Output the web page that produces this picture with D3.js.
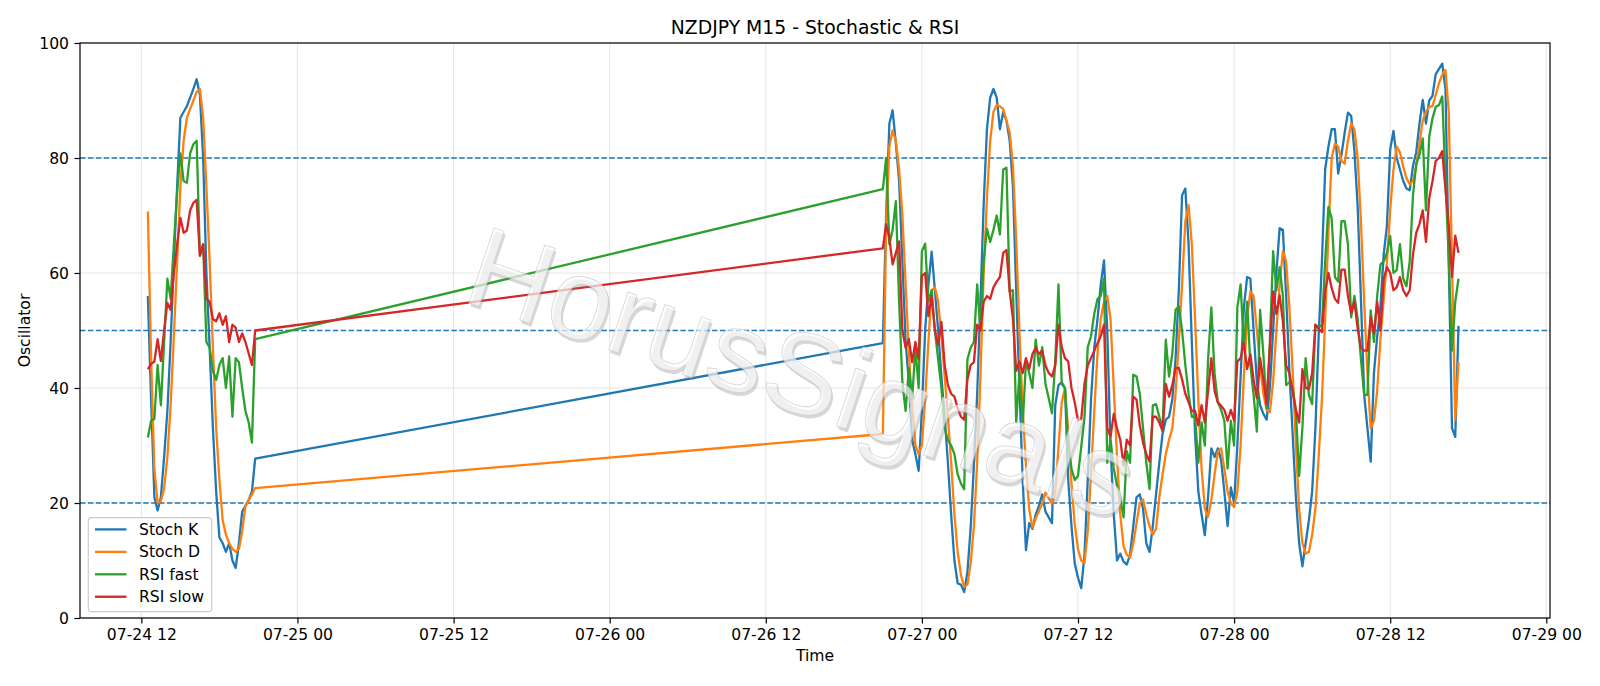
<!DOCTYPE html>
<html>
<head>
<meta charset="utf-8">
<script src="https://cdn.jsdelivr.net/npm/d3@7"></script>
<style>
  body { margin: 0; background: #fff; }
  text { font-family: "DejaVu Sans", sans-serif; }
</style>
</head>
<body>
<div id="chart"></div>
<script>

// two trading sessions, M15 bars (friday afternoon, then sunday open onwards)
var sessionStarts = ["2020-07-24 12:30", "2020-07-26 21:00"];
var sessionBars = [34, 178];

var seriesNames = ["Stoch K", "Stoch D", "RSI fast", "RSI slow"];
var seriesColors = ["#1f77b4", "#ff7f0e", "#2ca02c", "#d62728"];

var xTickLabels = ["2020-07-24 12:00", "2020-07-25 00:00", "2020-07-25 12:00", "2020-07-26 00:00",
    "2020-07-26 12:00", "2020-07-27 00:00", "2020-07-27 12:00", "2020-07-28 00:00",
    "2020-07-28 12:00", "2020-07-29 00:00"];
var yTicks = [0, 20, 40, 60, 80, 100];
var levels = [20, 50, 80];

var stochK = [
    56, 38, 21, 18.7, 21, 28, 36, 48, 62, 75, 87, 88, 89, 90.5, 92, 93.7, 91, 80, 60, 47,
    33, 22, 14, 13, 11.5, 13, 10, 8.7, 13, 18.5, 19.5, 20.5, 22, 27.7,
    47.8, 70, 86, 88.3, 82.5, 76, 62, 48, 41, 31,
    28.5, 25.6, 36, 50, 58, 63.7, 57, 50, 42, 35,
    27, 18, 10, 6, 5.8, 4.5, 8, 15.7, 26.6, 39,
    55, 72, 85, 90.5, 92, 90.5, 85, 88, 86.5, 83,
    75, 57, 40, 24, 11.8, 16.5, 15.5, 18, 19.5, 21.5,
    18.5, 17.5, 16.5, 37, 40.5, 41, 40, 24, 16, 9.5,
    7, 5.2, 11, 24, 38, 47, 52, 58, 62.2, 50,
    30, 18, 10, 11.2, 9.8, 9.3, 11, 16, 21, 21.5,
    19, 13, 11.5, 16, 21.5, 27, 32, 34.5, 35, 38,
    45, 57, 73.5, 74.7, 65, 48, 32, 22, 18, 14.4,
    21, 29.5, 28, 29.5, 27.5, 22, 16, 22.7, 20, 30,
    42, 54, 59.3, 59, 50, 41, 37, 35.5, 34.5, 40,
    50, 60, 67.8, 67.5, 56, 43, 32, 21, 13, 9,
    13, 17, 22, 33, 49, 62, 78, 82, 85, 85,
    77.3, 80.5, 84.4, 87.9, 87.3, 81.2, 71.5, 55.5, 38.8, 33,
    27.2, 42.6, 49, 54.2, 63.2, 68.3, 81.5, 84.7, 80, 78,
    76, 74.7, 74.4, 78.6, 81, 86, 90.1, 86, 90, 90.8,
    94.6, 95.5, 96.4, 92, 62, 33, 31.5, 50.8
];

var stochD = [
    70.7, 45, 26, 20, 20.3, 22.5, 28, 37, 49, 62, 75, 83, 87, 88.5, 90, 91.5, 92, 87, 75, 62,
    47, 33, 24, 17, 14.5, 13, 12, 11.5, 12, 15, 19.5, 20.5, 21.5, 22.6,
    32, 68, 82, 84.8, 83, 78, 70, 58, 46, 37,
    30, 28.5, 30, 38, 48, 57, 57.5, 55, 49, 42,
    35, 27, 18, 11.5, 7.5, 5.4, 5.8, 9.5, 16, 27,
    42, 60, 73, 83, 88, 89.2, 89, 88.5, 86.5, 84.4,
    78.6, 65.8, 49.7, 36.2, 26.6, 18.9, 15.7, 17.3, 18.6, 19.9,
    21.8, 20.8, 19.9, 21.5, 29.8, 37.5, 40, 32.3, 23.4, 16.3,
    12, 10, 9.6, 15, 25, 36, 46, 52, 55, 56,
    52, 40, 28, 18, 12.5, 11, 10.5, 13, 16.5, 20,
    20.6, 18, 16, 14.5, 15.5, 21, 25, 28.5, 31, 33,
    39, 48, 58, 69, 71.8, 65, 52, 38, 26, 19,
    17.6, 20.5, 25, 29, 29.5, 26, 22, 20, 19.3, 22,
    30, 42, 52, 56.8, 56, 50, 44, 39, 36.2, 35.8,
    41, 50, 58, 63.8, 62, 54, 43, 30, 19, 13,
    11.2, 11.5, 14.5, 19, 28, 38, 52, 67, 80, 82.5,
    82, 79.5, 79, 83, 86, 85, 80, 69, 55, 42.5,
    33, 34.3, 39.6, 48.6, 55.5, 62, 71, 78, 82, 81,
    78.5, 76.5, 75.4, 76, 78.5, 82.5, 86.5, 88, 88.9, 89,
    91, 93, 94.5, 95.3, 88, 62, 34.5, 44.5
];

var rsiFast = [
    31.4, 34.3, 34.6, 44, 37, 48, 59, 55.5, 65, 74, 80.8, 76, 75.7, 80.8, 82.4, 83, 63, 65, 48, 47,
    43, 41.4, 44, 45.2, 40, 45.5, 35, 45.2, 44.5, 40, 36, 34, 30.5, 48.5,
    74.6, 80, 65, 67.5, 72.5, 55, 41, 36, 43.5, 38,
    47, 40, 63.8, 65.1, 55, 57, 50, 45, 40, 33,
    31, 30, 28.5, 25, 23.4, 22.4, 45, 47, 48, 58,
    50, 62, 67.7, 65.4, 67.5, 70, 66.7, 78, 78.3, 56.8,
    57, 34, 42.6, 33.7, 44.6, 42.6, 40, 48.4, 43.9, 47.1,
    40.7, 38.2, 35.6, 44.6, 58, 40.7, 40, 30.4, 26, 24,
    24.7, 29.8, 34.9, 47.1, 49, 52.9, 55.5, 56, 59, 27,
    31, 26, 23, 21, 17.5, 29, 27, 42.3, 42, 39,
    33, 27, 22.4, 37, 37.2, 35, 33, 48.4, 42, 46,
    53.6, 54.2, 50, 44, 39, 35, 35, 27, 34, 30,
    45, 54, 42.5, 37.5, 36.2, 34.3, 26, 34.3, 30, 54,
    58, 47, 55, 44, 38.8, 32.4, 53.6, 45.9, 36.5, 48,
    63.8, 57, 61, 56, 40.5, 41, 40, 36, 24.7, 33,
    45.2, 38.8, 37.2, 51, 50.5, 51, 62, 71.5, 69.5, 59.3,
    58.5, 69, 69, 65, 52.3, 56, 52, 45, 38.8, 38.8,
    53.5, 48, 56, 61.5, 62, 63.5, 66.4, 60, 60.5, 65,
    59, 57.7, 62, 73.5, 79, 80.5, 83.4, 70.9, 83.7, 86.9,
    88.9, 89.2, 90.7, 76, 62.5, 46.5, 55, 59
];

var rsiSlow = [
    43.3, 44.2, 44.6, 48.5, 44.7, 50, 54.8, 53.6, 60, 65, 69.6, 67, 67.4, 70.9, 72.2, 72.7, 63, 65, 55.5, 55,
    52, 51.6, 53, 51, 52.5, 48, 51, 50.5, 48, 49.5, 48, 46, 44, 50,
    64.3, 68.5, 66, 61.5, 63.5, 65.5, 50, 47, 48.5, 44.5,
    48, 45, 59.5, 60, 52.5, 56, 50, 47.5, 51.5, 44,
    40.5, 39, 38.5, 36.5, 35, 34.5, 41.5, 44, 44.5, 51,
    50, 55, 56, 55.5, 57.5, 58.5, 59.3, 63.5, 64, 56.8,
    52, 43, 44.6, 42.6, 45.2, 43.3, 45.9, 47, 45.9, 46.5,
    43.9, 42.6, 42, 43.9, 51, 47.1, 45.2, 44.6, 40, 37.5,
    34.3, 34.6, 40.7, 43.9, 45.2, 46.5, 47.8, 49, 51, 33,
    31.5, 35.5, 33, 31, 26.6, 31, 30, 38.5, 38, 33.5,
    30.5, 28.5, 27.2, 35, 35, 34, 32.5, 40.7, 38.5, 40.5,
    43.5, 43.5, 41.5, 39, 37.5, 36, 36, 33.5, 37, 34,
    39.5, 45.2, 39.5, 37.5, 36.9, 36.2, 34.3, 36.2, 34.3, 44.6,
    45.2, 47.8, 43.3, 45.9, 41.4, 38.2, 45.2, 41.4, 37.2, 47,
    56.8, 52.9, 56.1, 51.6, 43.9, 42.6, 39.4, 36.2, 34, 43.3,
    40, 39.8, 42.6, 51, 50.3, 49.7, 56.8, 60, 57.4, 55.5,
    54.8, 60.6, 60.6, 56, 53, 55, 50.3, 47, 46.5, 46.5,
    52.3, 49.5, 55, 50, 59, 61, 60, 57, 57.5, 59.3,
    57, 56, 57, 63.2, 67, 68.5, 70.9, 65.4, 73, 76,
    79.5, 80, 81.2, 74.5, 68.3, 59.3, 66.5, 63.5
];

function init() {

    var w = 1600;
    var h = 686;
    var margin = {top: 43, right: 50, bottom: 68, left: 80};
    var innerWidth = w - margin.left - margin.right;
    var innerHeight = h - margin.top - margin.bottom;

    var parseTime = d3.timeParse("%Y-%m-%d %H:%M");

    // bar times, one every 15 minutes within each session
    var times = [];
    sessionStarts.forEach(function(s, k) {
        var start = parseTime(s);
        for (var i = 0; i < sessionBars[k]; i++) {
            times.push(d3.timeMinute.offset(start, 15 * i));
        }
    });

    var allSeries = [stochK, stochD, rsiFast, rsiSlow];
    allSeries.forEach(function(s, k) {
        if (s.length !== times.length) console.warn(seriesNames[k], s.length, times.length);
    });

    var svg = d3.select("#chart")
        .append("svg")
        .attr("width", w)
        .attr("height", h);

    // x range padded like the original figure
    var xScale = d3.scaleTime()
        .domain([parseTime("2020-07-24 07:17"), parseTime("2020-07-29 00:17")])
        .range([margin.left, w - margin.right]);

    var yScale = d3.scaleLinear()
        .domain([0, 100])
        .range([h - margin.bottom, margin.top]);

    var xTicks = xTickLabels.map(parseTime);

    // grid
    var grid = svg.append("g");
    grid.selectAll(".vg")
        .data(xTicks)
        .enter()
        .append("line")
        .attr("x1", d => xScale(d))
        .attr("x2", d => xScale(d))
        .attr("y1", margin.top)
        .attr("y2", h - margin.bottom)
        .attr("stroke", "#b0b0b0")
        .attr("stroke-opacity", 0.3)
        .attr("stroke-width", 1.1);
    grid.selectAll(".hg")
        .data(yTicks)
        .enter()
        .append("line")
        .attr("x1", margin.left)
        .attr("x2", w - margin.right)
        .attr("y1", d => yScale(d))
        .attr("y2", d => yScale(d))
        .attr("stroke", "#b0b0b0")
        .attr("stroke-opacity", 0.3)
        .attr("stroke-width", 1.1);

    // overbought / mid / oversold levels
    svg.selectAll(".level")
        .data(levels)
        .enter()
        .append("line")
        .attr("x1", margin.left)
        .attr("x2", w - margin.right)
        .attr("y1", d => yScale(d))
        .attr("y2", d => yScale(d))
        .attr("stroke", "#1f77b4")
        .attr("stroke-width", 1.4)
        .attr("stroke-dasharray", "5.5,2.4");

    var line = d3.line()
        .x((d, i) => xScale(times[i]))
        .y(d => yScale(d));

    svg.selectAll(".series")
        .data(allSeries)
        .enter()
        .append("path")
        .attr("d", d => line(d))
        .attr("fill", "none")
        .attr("stroke", (d, i) => seriesColors[i])
        .attr("stroke-width", 2.3)
        .attr("stroke-linejoin", "round");

    // watermark, drawn over the lines like the original
    var wm = svg.append("g")
        .attr("transform", "translate(460,300) rotate(18.5)");
    wm.append("text")
        .attr("x", 2.5)
        .attr("y", 2.5)
        .attr("font-size", 115)
        .attr("letter-spacing", 1)
        .attr("fill", "#808080")
        .attr("opacity", 0.3)
        .style("font-family", "Liberation Sans")
        .text("HorusSignals");
    wm.append("text")
        .attr("font-size", 115)
        .attr("letter-spacing", 1)
        .attr("fill", "#fdfdfd")
        .attr("fill-opacity", 0.65)
        .attr("stroke", "#c4c4c4")
        .attr("stroke-width", 0.8)
        .attr("stroke-opacity", 0.7)
        .style("font-family", "Liberation Sans")
        .text("HorusSignals");

    // axes
    var xAxis = d3.axisBottom(xScale)
        .tickValues(xTicks)
        .tickFormat(d3.timeFormat("%m-%d %H"))
        .tickSize(5.5)
        .tickSizeOuter(0)
        .tickPadding(5.5);

    var yAxis = d3.axisLeft(yScale)
        .tickValues(yTicks)
        .tickSize(5.5)
        .tickSizeOuter(0)
        .tickPadding(5.5);

    var gx = svg.append("g")
        .attr("transform", "translate(0," + (h - margin.bottom) + ")")
        .call(xAxis);
    var gy = svg.append("g")
        .attr("transform", "translate(" + margin.left + ",0)")
        .call(yAxis);

    [gx, gy].forEach(function(g) {
        g.select(".domain").remove();
        g.selectAll(".tick line").attr("stroke", "#000").attr("stroke-width", 1.2);
        g.selectAll(".tick text")
            .attr("fill", "#000")
            .attr("font-size", "15.6px")
            .style("font-family", "DejaVu Sans");
    });

    // frame
    svg.append("rect")
        .attr("x", margin.left)
        .attr("y", margin.top)
        .attr("width", innerWidth)
        .attr("height", innerHeight)
        .attr("fill", "none")
        .attr("stroke", "#000")
        .attr("stroke-width", 1.2);

    // titles
    svg.append("text")
        .attr("x", margin.left + innerWidth / 2)
        .attr("y", 33.5)
        .attr("text-anchor", "middle")
        .attr("font-size", "18.8px")
        .text("NZDJPY M15 - Stochastic & RSI");

    svg.append("text")
        .attr("x", margin.left + innerWidth / 2)
        .attr("y", 661)
        .attr("text-anchor", "middle")
        .attr("font-size", "15.6px")
        .text("Time");

    svg.append("text")
        .attr("transform", "translate(30," + (margin.top + innerHeight / 2) + ") rotate(-90)")
        .attr("text-anchor", "middle")
        .attr("font-size", "15.6px")
        .text("Oscillator");

    // legend
    var lg = svg.append("g");
    lg.append("rect")
        .attr("x", 88.3)
        .attr("y", 517.7)
        .attr("width", 123.4)
        .attr("height", 94)
        .attr("rx", 3.5)
        .attr("fill", "#fff")
        .attr("fill-opacity", 0.8)
        .attr("stroke", "#cccccc")
        .attr("stroke-width", 1.2);

    var rows = lg.selectAll(".row")
        .data(seriesNames)
        .enter()
        .append("g")
        .attr("transform", (d, i) => "translate(0," + (529.4 + i * 22.45) + ")");
    rows.append("line")
        .attr("x1", 95)
        .attr("x2", 126.5)
        .attr("stroke", (d, i) => seriesColors[i])
        .attr("stroke-width", 2.3);
    rows.append("text")
        .attr("x", 139)
        .attr("dy", "0.36em")
        .attr("font-size", "15.6px")
        .text(d => d);
}

window.onload = init;
</script>
</body>
</html>
